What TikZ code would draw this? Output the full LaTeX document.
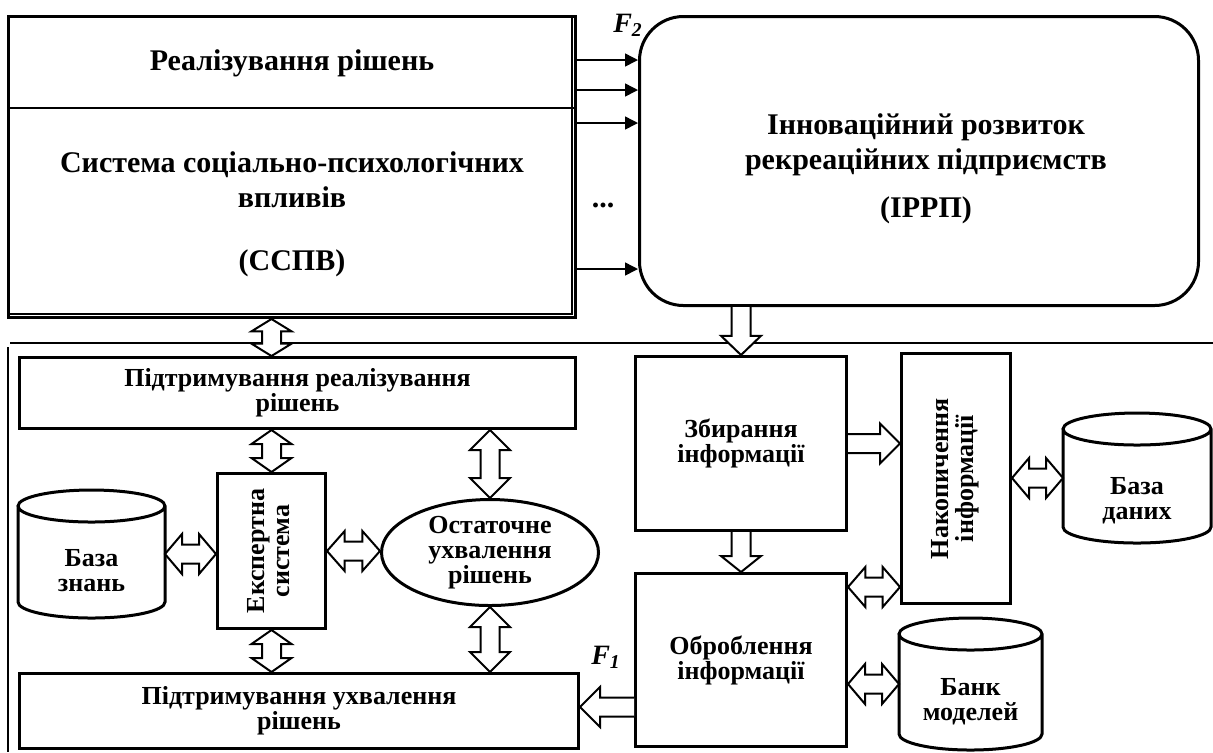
\documentclass[tikz,border=0pt]{standalone}
\usepackage{fontspec}
\setmainfont{Liberation Serif}
\usepackage{graphicx}
\usepackage{tikz}
\usetikzlibrary{calc}
\usetikzlibrary{arrows.meta}
\usetikzlibrary{shapes.geometric}
\tikzset{box style/.style={draw, line width=1.5pt, inner sep=0pt, align=center, font=\fontsize{13}{12.5}\selectfont\bfseries}}
\tikzset{db style/.style={inner sep=0pt, outer sep=0.75pt}}
\tikzset{title style/.style={align=center, inner sep=0pt, font=\fontsize{15}{17.5}\selectfont\bfseries}}
\tikzset{dbtext style/.style={align=center, inner sep=0pt, font=\fontsize{13}{12.5}\selectfont\bfseries}}
\tikzset{flow style/.style={line width=0.75pt, -{Triangle[length=6.5pt,width=6.5pt]}}}
\tikzset{hollow style/.style={draw, fill=white, line width=1pt, line join=miter}}
\tikzset{thin style/.style={line width=0.6pt}}

% hollow block arrow from #2 to #3, #1 = number of heads
\newcommand{\hollowarrow}[3]{%
  \path let \p1=#2, \p2=#3 in
    \pgfextra{\pgfmathsetmacro\haang{atan2(\y2-\y1,\x2-\x1)}%
              \pgfmathsetmacro\halen{veclen(\x2-\x1,\y2-\y1)}%
              \global\let\haang\haang \global\let\halen\halen};
  \ifnum#1=2 \pgfmathsetmacro\hahl{min(10,\halen/3)}\else \pgfmathsetmacro\hahl{min(10,\halen*0.4)}\fi
  \pgfmathsetmacro\haend{\halen-\hahl}
  \begin{scope}[shift={#2}, rotate=\haang]
    \ifnum#1=2
      \draw[hollow style] (0pt,0pt) -- (\hahl pt,10pt) -- (\hahl pt,4.75pt) -- (\haend pt,4.75pt) -- (\haend pt,10pt)
        -- (\halen pt,0pt) -- (\haend pt,-10pt) -- (\haend pt,-4.75pt) -- (\hahl pt,-4.75pt) -- (\hahl pt,-10pt) -- cycle;
    \else
      \draw[hollow style] (0pt,4.75pt) -- (\haend pt,4.75pt) -- (\haend pt,10pt) -- (\halen pt,0pt)
        -- (\haend pt,-10pt) -- (\haend pt,-4.75pt) -- (0pt,-4.75pt);
    \fi
  \end{scope}}

% database drum round node #1
\newcommand{\dbdrum}[1]{%
  \draw[line width=1.5pt] let \p1=(#1.north west), \p2=(#1.south east), \n1={(\x2-\x1)/2} in
    (\x1,{\y1-8pt}) -- (\x1,{\y2+8pt}) arc[start angle=180, end angle=360, x radius=\n1, y radius=8pt]
    -- (\x2,{\y1-8pt}) arc[start angle=0, end angle=360, x radius=\n1, y radius=8pt];}

\begin{document}
\begin{tikzpicture}[x=0.5pt, y=-0.5pt]
   \useasboundingbox (0,0) rectangle (1213,752);

   % upper level
   \node[box style, minimum width=283.5pt, minimum height=150.5pt] (sspv) at (292,167) {};
   \draw[thin style] ($(sspv.north east)+(-5,1.5)$) |- ($(sspv.south west)+(1.5,-5)$);
   \draw[line width=1pt] (sspv.west |- 0,108) -- (sspv.east |- 0,108);
   \node[title style] (realiz) at (292,63) {Реалізування рішень};
   \node[title style] (sspvname) at (292,180) {Система соціально-психологічних\\впливів};
   \node[title style] (sspvabbr) at (292,263) {(ССПВ)};

   \node[box style, rounded corners=22pt, minimum width=279.5pt, minimum height=144.5pt] (irrp) at (919,161) {};
   \node[title style] (irrpname) at (926,145) {Інноваційний розвиток\\рекреаційних підприємств};
   \node[title style] (irrpabbr) at (926,210) {(ІРРП)};

   \foreach \yy in {60,90,123,269}
      \draw[flow style] (sspv.east |- 0,\yy) -- (irrp.west |- 0,\yy);
   \node[title style] (dots) at (603,205) {...};
   \node[title style, font=\fontsize{14}{16}\selectfont\bfseries\itshape] (ftwo) at (628,25) {F\textsubscript{2}};

   % lower level
   \draw[thin style] (1213,343) -- (10,343);
   \draw[thin style] (8,347) -- (8,752);

   \node[box style, minimum width=278pt, minimum height=35.5pt] (pidreal) at (297.5,393) {Підтримування реалізування\\рішень};
   \node[box style, minimum width=279.5pt, minimum height=37.5pt] (pidukh) at (299,711) {Підтримування ухвалення\\рішень};
   \node[box style, minimum width=54pt, minimum height=77.5pt] (ekspert) at (271.5,551)
      {\rotatebox{90}{\begin{tabular}{@{}c@{}}Експертна\\система\end{tabular}}};
   \node[box style, ellipse, minimum width=108.5pt, minimum height=53pt] (ostat) at (490,552.5) {Остаточне\\ухвалення\\рішень};
   \node[db style, minimum width=72pt, minimum height=62.5pt] (bazaznan) at (91.5,554) {};
   \dbdrum{bazaznan}
   \node[dbtext style] (bazaznant) at (91.5,571) {База\\знань};

   \node[box style, minimum width=105.5pt, minimum height=87pt] (zbyr) at (741,443.5) {Збирання\\інформації};
   \node[box style, minimum width=54.5pt, minimum height=125pt] (nakop) at (956,478.5)
      {\rotatebox{90}{\begin{tabular}{@{}c@{}}Накопичення\\інформації\end{tabular}}};
   \node[box style, minimum width=105.5pt, minimum height=86.5pt] (obrob) at (741,660) {Оброблення\\інформації};
   \node[db style, minimum width=72.5pt, minimum height=63.5pt] (bazadan) at (1137,478) {};
   \dbdrum{bazadan}
   \node[dbtext style] (bazadant) at (1137,501) {База\\даних};
   \node[db style, minimum width=70pt, minimum height=64.5pt] (bankmod) at (970.5,684) {};
   \dbdrum{bankmod}
   \node[dbtext style] (bankmodt) at (970.5,702) {Банк\\моделей};

   \coordinate (obnak) at ($(obrob.north east)+(0,15)$);
   \coordinate (obukh) at ($(obrob.south west)+(0,-41)$);

   \hollowarrow{2}{(sspv.south -| ekspert.north)}{(pidreal.north -| ekspert.north)}
   \hollowarrow{2}{(pidreal.south -| ekspert.north)}{(ekspert.north)}
   \hollowarrow{2}{(pidreal.south -| ostat.north)}{(ostat.north)}
   \hollowarrow{2}{(bazaznan.east)}{(ekspert.west |- bazaznan.east)}
   \hollowarrow{2}{(ekspert.east)}{(ostat.west |- ekspert.east)}
   \hollowarrow{2}{(ekspert.south)}{(pidukh.north -| ekspert.south)}
   \hollowarrow{2}{(ostat.south)}{(pidukh.north -| ostat.south)}
   \hollowarrow{1}{(irrp.south -| zbyr.north)}{(zbyr.north)}
   \hollowarrow{1}{(zbyr.east)}{(nakop.west |- zbyr.east)}
   \hollowarrow{1}{(zbyr.south)}{(obrob.north)}
   \hollowarrow{2}{(obnak)}{(nakop.west |- obnak)}
   \hollowarrow{2}{(nakop.east |- bazadan.west)}{(bazadan.west)}
   \hollowarrow{2}{(obrob.east |- bankmod.west)}{(bankmod.west)}
   \hollowarrow{1}{(obukh)}{(pidukh.east |- obukh)}
   \node[title style, font=\fontsize{14}{16}\selectfont\bfseries\itshape] (fone) at (606,657) {F\textsubscript{1}};
\end{tikzpicture}
\end{document}
